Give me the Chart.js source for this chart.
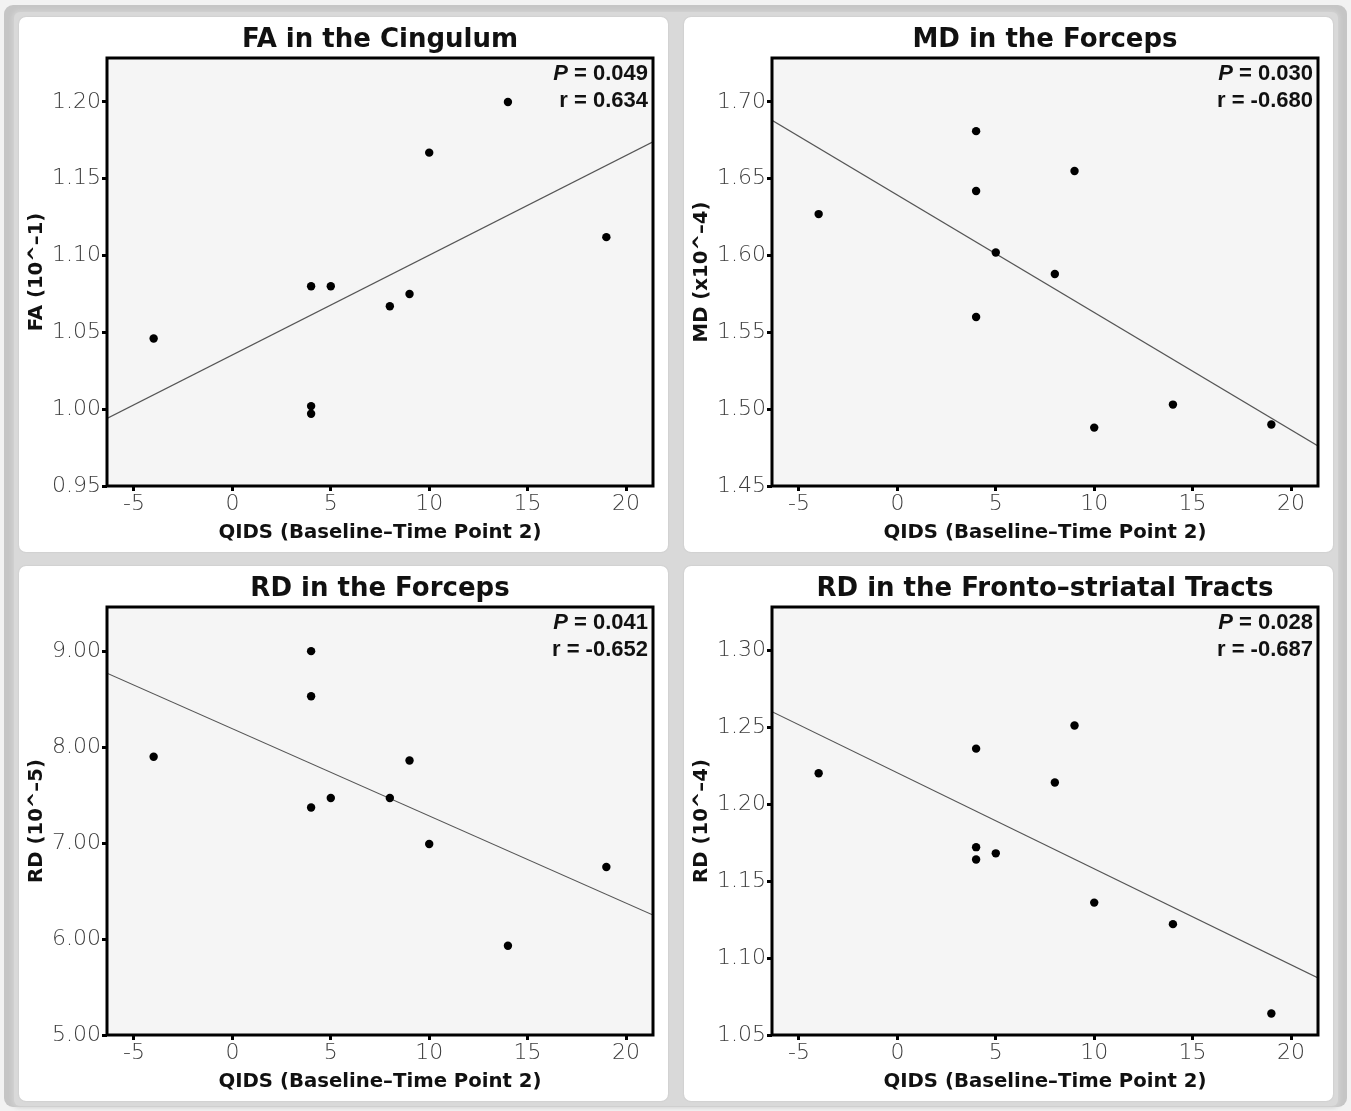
<!DOCTYPE html>
<html><head><meta charset="utf-8">
<script src="https://cdn.jsdelivr.net/npm/chart.js@4.4.1/dist/chart.umd.min.js"></script>
<style>
html,body{margin:0;padding:0;background:#f2f2f2;width:1351px;height:1111px;overflow:hidden;}
#frame{position:absolute;left:4px;top:5px;width:1343px;height:1102px;background:#c5c5c5;border-radius:9px;}
#inner{position:absolute;left:14px;top:12px;width:1324px;height:1094px;background:#d9d9d9;border-radius:6px;box-shadow:0 0 4px 2px #d2d2d2;}
.card{position:absolute;width:649px;height:535px;background:#fff;border-radius:7px;box-shadow:0 0 2px rgba(0,0,0,0.12);}
canvas{display:block;}
</style></head>
<body>
<div id="frame"></div>
<div id="inner"></div>
<div class="card" style="left:19px;top:17px"><canvas id="c1" width="649" height="535"></canvas></div>
<div class="card" style="left:684px;top:17px"><canvas id="c2" width="649" height="535"></canvas></div>
<div class="card" style="left:19px;top:566px"><canvas id="c3" width="649" height="535"></canvas></div>
<div class="card" style="left:684px;top:566px"><canvas id="c4" width="649" height="535"></canvas></div>
<script>
// ---- data ----
const qids = [-4, 4, 4, 4, 5, 8, 9, 10, 14, 19];
const xTicks = [-5, 0, 5, 10, 15, 20];
const xRange = [-6.37, 21.37];
const fitX = [-6.37, 21.37];
const xTitle = "QIDS (Baseline\u2013Time Point 2)";

const faValues = [1.046, 1.080, 1.002, 0.997, 1.080, 1.067, 1.075, 1.167, 1.200, 1.112];
const faFit = [0.994, 1.174];
const faTicks = [0.95, 1.00, 1.05, 1.10, 1.15, 1.20];
const faRange = [0.95, 1.2286];

const mdValues = [1.627, 1.681, 1.642, 1.560, 1.602, 1.588, 1.655, 1.488, 1.503, 1.490];
const mdFit = [1.688, 1.476];
const mdTicks = [1.45, 1.50, 1.55, 1.60, 1.65, 1.70];
const mdRange = [1.45, 1.7286];

const rdForcepsValues = [7.90, 9.00, 8.53, 7.37, 7.47, 7.47, 7.86, 6.99, 5.93, 6.75];
const rdForcepsFit = [8.77, 6.25];
const rdForcepsTicks = [5, 6, 7, 8, 9];
const rdForcepsRange = [5.0, 9.46];

const rdFrontoValues = [1.220, 1.236, 1.172, 1.164, 1.168, 1.214, 1.251, 1.136, 1.122, 1.064];
const rdFrontoFit = [1.260, 1.087];
const rdFrontoTicks = [1.05, 1.10, 1.15, 1.20, 1.25, 1.30];
const rdFrontoRange = [1.05, 1.328];

const titles = ["FA in the Cingulum", "MD in the Forceps", "RD in the Forceps", "RD in the Fronto\u2013striatal Tracts"];
const yTitles = ["FA (10^\u20131)", "MD (x10^\u20134)", "RD (10^\u20135)", "RD (10^\u20134)"];
const pValues = ["0.049", "0.030", "0.041", "0.028"];
const rValues = ["0.634", "-0.680", "-0.652", "-0.687"];

// ---- drawing ----
const decor = {
  id: 'decor',
  beforeDraw(chart) {
    const {ctx, chartArea: a} = chart;
    ctx.save();
    ctx.fillStyle = '#f5f5f5';
    ctx.fillRect(a.left, a.top, a.right - a.left, a.bottom - a.top);
    ctx.restore();
  },
  afterDraw(chart) {
    const o = chart.options.plugins.decor;
    const {ctx, chartArea: a} = chart;
    ctx.save();
    ctx.strokeStyle = '#000';
    ctx.lineWidth = 3;
    ctx.strokeRect(a.left, a.top, a.right - a.left, a.bottom - a.top);
    // title
    ctx.fillStyle = '#111';
    ctx.font = "bold 26px 'DejaVu Sans'";
    ctx.textAlign = 'center';
    ctx.textBaseline = 'middle';
    ctx.fillText(o.title, (a.left + a.right) / 2, 23);
    // stats
    const right = a.right - 5;
    ctx.textAlign = 'left';
    ctx.font = "bold 22px 'Liberation Sans'";
    const rest = " = " + o.p;
    const wRest = ctx.measureText(rest).width;
    ctx.fillText(rest, right - wRest, a.top + 16);
    ctx.font = "italic bold 22px 'Liberation Sans'";
    const wP = ctx.measureText("P").width;
    ctx.fillText("P", right - wRest - wP, a.top + 16);
    ctx.font = "bold 22px 'Liberation Sans'";
    const rt = "r = " + o.r;
    ctx.fillText(rt, right - ctx.measureText(rt).width, a.top + 43);
    ctx.restore();
  }
};

function makeChart(id, idx, values, fit, yTicks, yRange) {
  const tickFont = {family: "'DejaVu Sans'", weight: 200, size: 22};
  const titleFont = {family: "'DejaVu Sans'", weight: 'bold', size: 19.7};
  new Chart(document.getElementById(id), {
    type: 'scatter',
    data: {
      datasets: [
        {type: 'line', data: fitX.map((x, i) => ({x, y: fit[i]})), borderColor: '#555', borderWidth: 1.2, pointRadius: 0, fill: false, order: 2},
        {data: qids.map((x, i) => ({x, y: values[i]})), backgroundColor: '#000', borderWidth: 0, pointRadius: 4.2, order: 1}
      ]
    },
    options: {
      responsive: false,
      animation: false,
      layout: {padding: {top: 41, right: 15, left: 0, bottom: 0}},
      plugins: {
        legend: {display: false},
        tooltip: {enabled: false},
        decor: {title: titles[idx], p: pValues[idx], r: rValues[idx]}
      },
      scales: {
        x: {
          type: 'linear', min: xRange[0], max: xRange[1],
          afterBuildTicks(s) { s.ticks = xTicks.map(v => ({value: v})); },
          afterFit(s) { s.height = 66; },
          grid: {drawOnChartArea: false, drawTicks: true, tickLength: 5, tickWidth: 3, tickColor: '#000'},
          border: {display: false},
          ticks: {font: tickFont, color: '#3c3c3c', padding: 0, callback: v => String(v)},
          title: {display: true, text: xTitle, color: '#111', font: titleFont, padding: {top: 0, bottom: 7.2}}
        },
        y: {
          type: 'linear', min: yRange[0], max: yRange[1],
          afterBuildTicks(s) { s.ticks = yTicks.map(v => ({value: v})); },
          afterFit(s) { s.width = 88; },
          grid: {drawOnChartArea: false, drawTicks: true, tickLength: 5, tickWidth: 3, tickColor: '#000'},
          border: {display: false},
          ticks: {font: tickFont, color: '#3c3c3c', padding: 1, callback: v => Number(v).toFixed(2)},
          title: {display: true, text: yTitles[idx], color: '#111', font: titleFont, padding: {top: 6.2, bottom: 0}}
        }
      }
    },
    plugins: [decor]
  });
}

makeChart('c1', 0, faValues, faFit, faTicks, faRange);
makeChart('c2', 1, mdValues, mdFit, mdTicks, mdRange);
makeChart('c3', 2, rdForcepsValues, rdForcepsFit, rdForcepsTicks, rdForcepsRange);
makeChart('c4', 3, rdFrontoValues, rdFrontoFit, rdFrontoTicks, rdFrontoRange);
</script>
</body></html>
